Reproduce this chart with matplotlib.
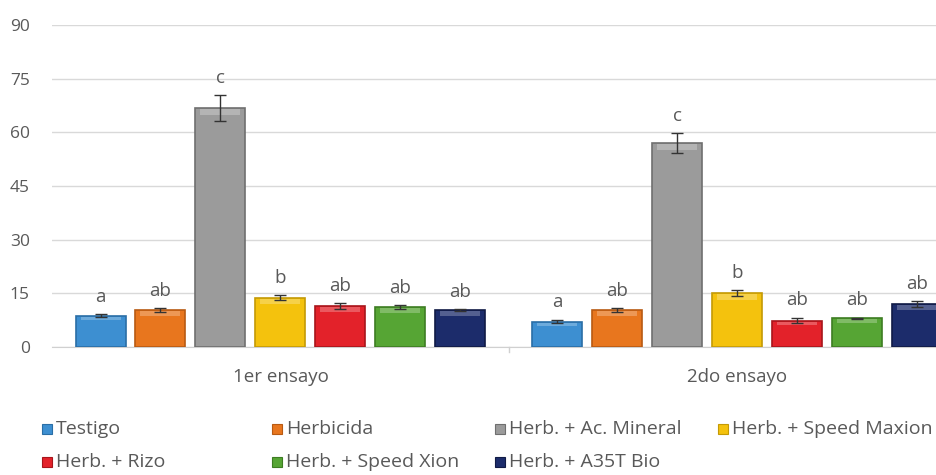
import numpy as np
import matplotlib.pyplot as plt
from matplotlib.patches import Rectangle

ensayos = ["1er ensayo", "2do ensayo"]
series = ["Testigo", "Herbicida", "Herb. + Ac. Mineral", "Herb. + Speed Maxion",
          "Herb. + Rizo", "Herb. + Speed Xion", "Herb. + A35T Bio"]
valores = [
    [8.8, 7.1],
    [10.3, 10.3],
    [66.8, 56.9],
    [13.8, 15.0],
    [11.5, 7.4],
    [11.1, 8.0],
    [10.3, 12.0],
]
errores = [
    [0.3, 0.5],
    [0.5, 0.5],
    [3.5, 2.8],
    [0.6, 0.8],
    [0.8, 0.8],
    [0.5, 0.2],
    [0.3, 0.8],
]
letras = [
    ["a", "a"],
    ["ab", "ab"],
    ["c", "c"],
    ["b", "b"],
    ["ab", "ab"],
    ["ab", "ab"],
    ["ab", "ab"],
]
colores = ["#3d8fd1", "#e8761e", "#9b9b9b", "#f4c20d", "#e3222a", "#56a534", "#1c2c6b"]
bordes = ["#2a6ea6", "#b85a12", "#6f6f6f", "#c49a05", "#a8151b", "#3d7d22", "#101a45"]

plt.rcParams['font.family'] = ['Open Sans', 'DejaVu Sans']
gris = "#595959"

fig = plt.figure(figsize=(9.37, 4.75), dpi=100)
ax = fig.add_axes([52 / 937, 1 - 347 / 475, 1 - 52 / 937, 322 / 475])

pitch = 60 / 457
ancho = 50 / 457
x = np.arange(len(ensayos))
for i, nombre in enumerate(series):
    pos = x + 0.5 + (i - 3) * pitch
    ax.bar(pos, valores[i], width=ancho, color=colores[i], edgecolor=bordes[i],
           linewidth=1.2, zorder=3)
    # brillo superior tipo biselado
    ax.bar(pos, [min(v * 0.12, 1.6) for v in valores[i]], width=ancho * 0.8,
           bottom=[v - min(v * 0.12, 1.6) - 0.3 for v in valores[i]],
           color="white", alpha=0.25, linewidth=0, zorder=4)
    ax.errorbar(pos, valores[i], yerr=errores[i], fmt="none", ecolor="#333333",
                elinewidth=1, capsize=4, capthick=1, zorder=5)
    for j in range(len(ensayos)):
        ax.annotate(letras[i][j], (pos[j], valores[i][j] + errores[i][j]),
                    xytext=(0, 6), textcoords="offset points", ha="center",
                    va="bottom", fontsize=13.5, color=gris)

ax.set_ylim(0, 90)
ax.set_yticks([0, 15, 30, 45, 60, 75, 90])
ax.set_xlim(0, (937 - 52) / 457)
ax.set_xticks([])
ax.grid(axis="y", color="#d9d9d9", linewidth=1, zorder=0)
ax.set_axisbelow(True)
for s in ["top", "right", "left"]:
    ax.spines[s].set_visible(False)
ax.spines["bottom"].set_color("#d0d0d0")
ax.tick_params(axis="y", length=0, pad=16, labelsize=12.5, labelcolor=gris)
ax.plot([1, 1], [0, -1.5], color="#d0d0d0", lw=1, clip_on=False)
for j, e in enumerate(ensayos):
    ax.text(j + 0.5, -8.5, e, ha="center", va="center", fontsize=13.5, color=gris)

# leyenda
leg_x = [42, 272, 495, 718, 42, 272, 495]
leg_y = [429, 429, 429, 429, 462, 462, 462]
for i, nombre in enumerate(series):
    fx = leg_x[i] / 937
    fy = 1 - leg_y[i] / 475
    fig.patches.append(Rectangle((fx, fy - 5 / 475), 10 / 937, 10 / 475,
                                 transform=fig.transFigure, facecolor=colores[i],
                                 edgecolor=bordes[i], linewidth=0.8))
    fig.text(fx + 14 / 937, fy, nombre, ha="left", va="center", fontsize=14,
             color=gris)

plt.savefig("out.png", dpi=100)
